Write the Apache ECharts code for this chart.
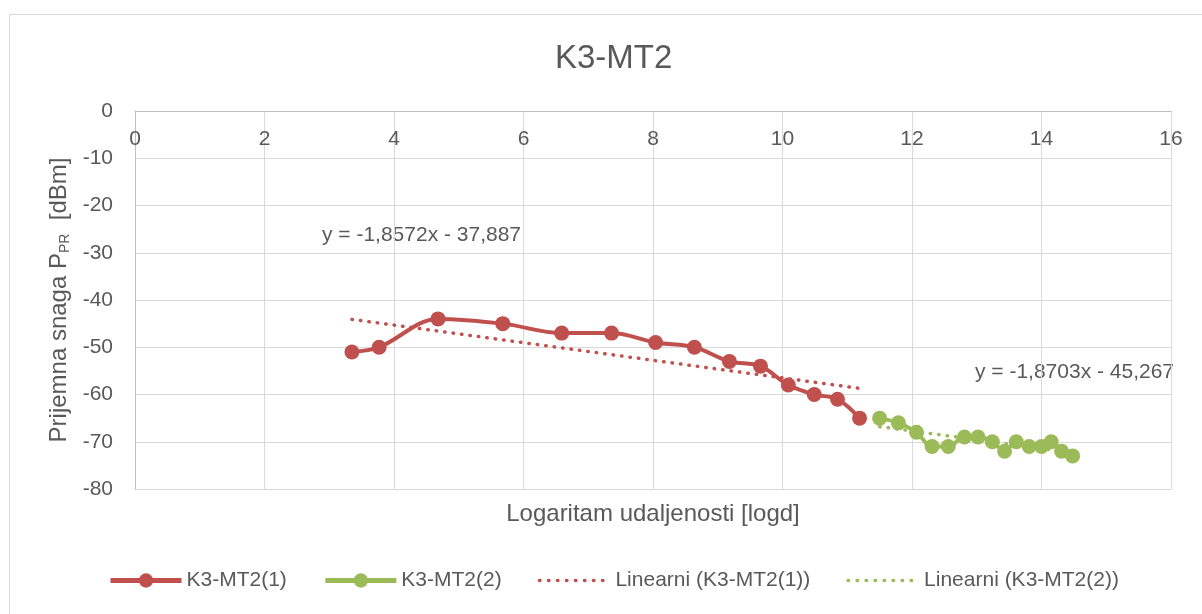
<!DOCTYPE html>
<html>
<head>
<meta charset="utf-8">
<script src="https://cdn.jsdelivr.net/npm/echarts@6/dist/echarts.min.js"></script>
<style>
  html, body { margin: 0; padding: 0; background: #fff; }
  #main { width: 1202px; height: 614px; }
</style>
</head>
<body>
<div id="main"></div>
<script>
// izmjerene tocke (logd, dBm)
var seriesNames = ['K3-MT2(1)', 'K3-MT2(2)', 'Linearni (K3-MT2(1))', 'Linearni (K3-MT2(2))'];

var mt1X = [3.35, 3.77, 4.68, 5.68, 6.59, 7.36, 8.04, 8.64, 9.18, 9.66, 10.09, 10.49, 10.85, 11.19];
var mt1Y = [-51, -50, -44, -45, -47, -47, -49, -50, -53, -54, -58, -60, -61, -65];

var mt2X = [11.50, 11.79, 12.07, 12.31, 12.56, 12.81, 13.02, 13.24, 13.43, 13.61, 13.81, 14.00, 14.15, 14.31, 14.48];
var mt2Y = [-65, -66, -68, -71, -71, -69, -69, -70, -72, -70, -71, -71, -70, -72, -73];

// krajnje tocke linearnih trendova
var trend1 = [[3.35, -44.1], [11.19, -58.7]];
var trend2 = [[11.50, -66.8], [14.48, -72.3]];

var eq1 = 'y = -1,8572x - 37,887';
var eq2 = 'y = -1,8703x - 45,267';

function pairs(xs, ys) {
    return xs.map(function (x, i) { return [x, ys[i]]; });
}

var red = '#c0504d';
var green = '#9bbb59';
var txt = '#595959';
var fontFam = '"Liberation Sans", Arial, sans-serif';

var myChart = echarts.init(document.getElementById('main'));
var option = {
    backgroundColor: '#fff',
    animation: false,
    textStyle: { fontFamily: fontFam, color: txt },
    title: {
        text: 'K3-MT2',
        left: 550,
        top: 37,
        textStyle: { fontSize: 33, fontWeight: 'normal', color: txt, fontFamily: fontFam }
    },
    grid: { left: 135, top: 111, width: 1036, height: 378, containLabel: false, show: false },
    legend: {
        bottom: 18,
        left: 103,
        itemGap: 36,
        itemWidth: 71,
        itemHeight: 18,
        textStyle: { fontSize: 21, color: txt, fontFamily: fontFam },
        data: [
            { name: seriesNames[0], lineStyle: { width: 5 } },
            { name: seriesNames[1], lineStyle: { width: 5 } },
            { name: seriesNames[2], itemStyle: { opacity: 0 }, lineStyle: { width: 3.5, type: [0.5, 8.5], cap: 'round' } },
            { name: seriesNames[3], itemStyle: { opacity: 0 }, lineStyle: { width: 3.5, type: [0.5, 8.5], cap: 'round' } }
        ]
    },
    xAxis: {
        type: 'value',
        position: 'top',
        min: 0,
        max: 16,
        interval: 2,
        name: 'Logaritam udaljenosti [logd]',
        nameLocation: 'middle',
        nameGap: -415,
        nameTextStyle: { fontSize: 24, color: txt, fontFamily: fontFam },
        axisLine: { show: true, lineStyle: { color: '#bfbfbf', width: 1 } },
        axisTick: { show: false },
        axisLabel: { inside: true, margin: 18, fontSize: 21, color: txt, fontFamily: fontFam },
        splitLine: { show: true, lineStyle: { color: '#d9d9d9', width: 1 } }
    },
    yAxis: {
        type: 'value',
        min: -80,
        max: 0,
        interval: 10,
        name: 'Prijemna snaga P{sub|PR}  [dBm]',
        nameLocation: 'middle',
        nameRotate: 90,
        nameGap: 57,
        nameTextStyle: {
            fontSize: 24, color: txt, fontFamily: fontFam,
            rich: { sub: { fontSize: 14, color: txt, verticalAlign: 'bottom', padding: [10, 0, 0, 0] } }
        },
        axisLine: { show: true, lineStyle: { color: '#bfbfbf', width: 1 } },
        axisTick: { show: false },
        axisLabel: { margin: 22, fontSize: 21, color: txt, fontFamily: fontFam },
        splitLine: { show: true, lineStyle: { color: '#d9d9d9', width: 1 } }
    },
    graphic: [
        {
            type: 'rect',
            left: 7, top: 12,
            shape: { width: 1200, height: 610 },
            style: { fill: 'none', stroke: '#d9d9d9', lineWidth: 1 },
            silent: true
        },
        {
            type: 'text', left: 322, top: 225,
            style: { text: eq1, fontSize: 21, fill: txt, fontFamily: fontFam }
        },
        {
            type: 'text', left: 975, top: 362,
            style: { text: eq2, fontSize: 21, fill: txt, fontFamily: fontFam }
        }
    ],
    series: [
        {
            name: seriesNames[0],
            type: 'line',
            data: pairs(mt1X, mt1Y),
            smooth: 0.35,
            symbol: 'circle',
            symbolSize: 15,
            color: red,
            lineStyle: { width: 4, color: red },
            itemStyle: { color: red },
            z: 3
        },
        {
            name: seriesNames[1],
            type: 'line',
            data: pairs(mt2X, mt2Y),
            smooth: 0.35,
            symbol: 'circle',
            symbolSize: 15,
            color: green,
            lineStyle: { width: 4, color: green },
            itemStyle: { color: green },
            z: 3
        },
        {
            name: seriesNames[2],
            type: 'line',
            data: trend1,
            symbol: 'none',
            color: red,
            lineStyle: { width: 3.5, color: red, type: [0.5, 8], cap: 'round' },
            z: 2
        },
        {
            name: seriesNames[3],
            type: 'line',
            data: trend2,
            symbol: 'none',
            color: green,
            lineStyle: { width: 3.5, color: green, type: [0.5, 8], cap: 'round' },
            z: 2
        }
    ]
};
myChart.setOption(option);
</script>
</body>
</html>
